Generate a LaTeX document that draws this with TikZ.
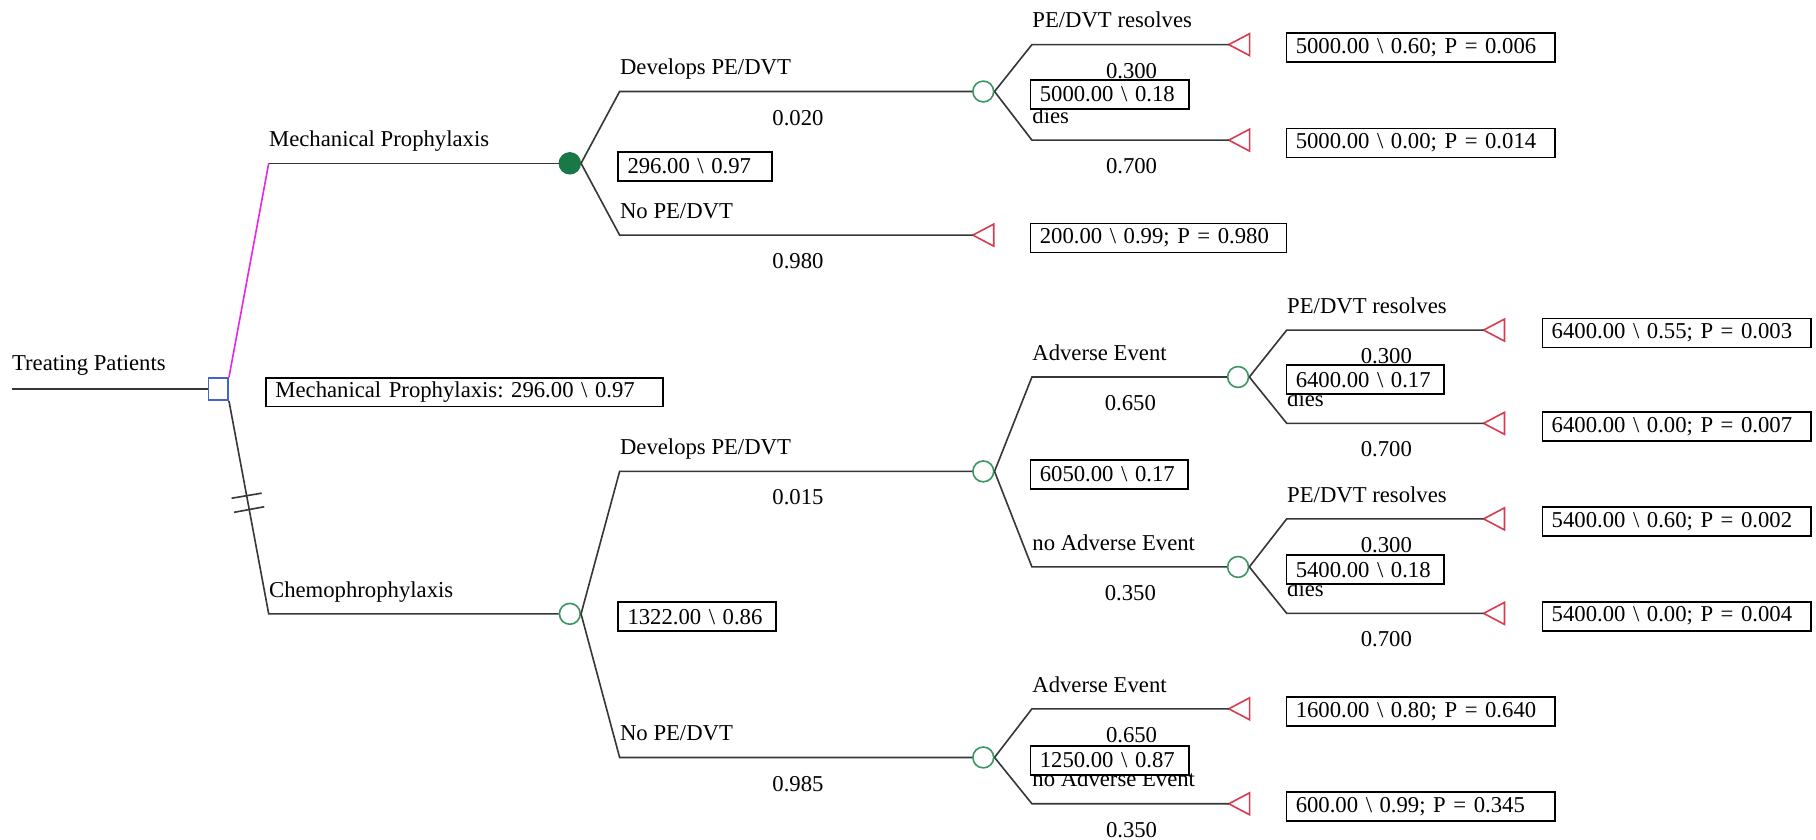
\documentclass[tikz,border=0pt]{standalone}
\usepackage{fontspec}
\setmainfont{Liberation Serif}
\usetikzlibrary{calc}
\frenchspacing
\definecolor{linegray}{RGB}{55,55,55}
\definecolor{optmag}{RGB}{230,40,230}
\definecolor{dkgreen}{RGB}{26,120,70}
\definecolor{chgreen}{RGB}{60,150,100}
\definecolor{tred}{RGB}{215,60,80}
\definecolor{dblue}{RGB}{70,100,200}
\tikzset{
  br/.style={draw=linegray, line width=0.7pt},
  optbr/.style={draw=optmag, line width=0.7pt},
  chance/.style={circle, draw=chgreen, fill=white, line width=0.7pt, minimum size=9pt, inner sep=0pt},
  chancef/.style={circle, draw=dkgreen, fill=dkgreen, line width=0.7pt, minimum size=9pt, inner sep=0pt},
  decis/.style={rectangle, draw=dblue, fill=white, line width=0.7pt, minimum width=8.5pt, minimum height=9.5pt, inner sep=0pt},
  termtri/.style={draw=tred, line width=0.7pt, line join=miter},
  lab/.style={anchor=base west, inner sep=0pt},
  prob/.style={anchor=base, inner sep=0pt},
  valbox/.style={draw=black, fill=white, line width=0.8pt, anchor=west, inner xsep=4pt, inner ysep=0pt, minimum height=12.5pt, align=left, text width=#1},
}
\newcommand{\termshape}[1]{\draw[termtri] (#1) -- ++(18,-9.5) -- ++(0,19) -- cycle;}
\begin{document}
\begin{tikzpicture}[x=0.5pt,y=-0.5pt, font=\fontsize{9.8}{11}\selectfont]
\useasboundingbox (0,0) rectangle (1568,725);

% ---------- nodes ----------
\coordinate (r0) at (10,336);
\node[decis] (D) at (188.5,336) {};
\node[chancef] (MC) at (492,141) {};
\node[chance] (CC) at (492,530) {};
\node[chance] (N1) at (849,79) {};
\node[chance] (N2) at (849,407) {};
\node[chance] (N3) at (849,654) {};
\node[chance] (N4) at (1069,325.5) {};
\node[chance] (N5) at (1069,489.5) {};

% elbows
\coordinate (eM) at (232,141);
\coordinate (eC) at (232,530);
\coordinate (e1) at (535,79);
\coordinate (e0) at (535,203);
\coordinate (e11) at (891,38.5);
\coordinate (e12) at (891,121);
\coordinate (e2) at (535,407);
\coordinate (e3) at (535,654);
\coordinate (e21) at (891,325.5);
\coordinate (e22) at (891,489.5);
\coordinate (e41) at (1111,285);
\coordinate (e42) at (1111,365.5);
\coordinate (e51) at (1111,448);
\coordinate (e52) at (1111,529.6);
\coordinate (e31) at (891,612);
\coordinate (e32) at (891,694);

% terminals
\coordinate (T0) at (840,203);
\coordinate (T1) at (1061,38.5);
\coordinate (T2) at (1061,121);
\coordinate (T3) at (1281,285);
\coordinate (T4) at (1281,365.5);
\coordinate (T5) at (1281,448);
\coordinate (T6) at (1281,529.6);
\coordinate (T7) at (1061,612);
\coordinate (T8) at (1061,694);
\foreach \t in {T0,T1,T2,T3,T4,T5,T6,T7,T8} {\termshape{\t}}

% ---------- connectors ----------
\draw[br] (r0) -- (D.west);
\draw[optbr] (D.north east) -- (eM);
\draw[br] (eM) -- (MC.west);
\draw[br] (D.south east) -- (eC) -- (CC.west);
\draw[br] (MC.east) -- (e1) -- (N1.west);
\draw[br] (MC.east) -- (e0) -- (T0);
\draw[br] (N1.east) -- (e11) -- (T1);
\draw[br] (N1.east) -- (e12) -- (T2);
\draw[br] (CC.east) -- (e2) -- (N2.west);
\draw[br] (CC.east) -- (e3) -- (N3.west);
\draw[br] (N2.east) -- (e21) -- (N4.west);
\draw[br] (N2.east) -- (e22) -- (N5.west);
\draw[br] (N4.east) -- (e41) -- (T3);
\draw[br] (N4.east) -- (e42) -- (T4);
\draw[br] (N5.east) -- (e51) -- (T5);
\draw[br] (N5.east) -- (e52) -- (T6);
\draw[br] (N3.east) -- (e31) -- (T7);
\draw[br] (N3.east) -- (e32) -- (T8);

% hash marks on the non-optimal branch
\coordinate (h1) at ($(D.south east)!0.445!(eC)$);
\coordinate (h2) at ($(D.south east)!0.51!(eC)$);
\draw[br] ([shift={(-13,2.2)}]h1) -- ([shift={(13,-2.2)}]h1);
\draw[br] ([shift={(-13,2.4)}]h2) -- ([shift={(13,-2.4)}]h2);

% ---------- labels ----------
\node[lab] (lroot) at (10,320) {Treating Patients};
\node[lab] (lM) at (232,126.5) {Mechanical Prophylaxis};
\node[lab] (lC) at (232,515.5) {Chemophrophylaxis};

\node[lab] (l1) at (535,64.5) {Develops PE/DVT};
\node[prob] (p1) at (689,108) {0.020};
\node[lab] (l0) at (535,188.5) {No PE/DVT};
\node[prob] (p0) at (689,232) {0.980};

\node[lab] (l11) at (891,24) {PE/DVT resolves};
\node[prob] (p11) at (977,67.5) {0.300};
\node[lab] (l12) at (891,106.5) {dies};
\node[prob] (p12) at (977,150) {0.700};

\node[lab] (l2) at (535,392.5) {Develops PE/DVT};
\node[prob] (p2) at (689,436) {0.015};
\node[lab] (l3) at (535,639.5) {No PE/DVT};
\node[prob] (p3) at (689,683) {0.985};

\node[lab] (l21) at (891,311) {Adverse Event};
\node[prob] (p21) at (976,354.5) {0.650};
\node[lab] (l22) at (891,475) {no Adverse Event};
\node[prob] (p22) at (976,518.5) {0.350};

\node[lab] (l41) at (1111,270.5) {PE/DVT resolves};
\node[prob] (p41) at (1197,314) {0.300};
\node[lab] (l42) at (1111,351) {dies};
\node[prob] (p42) at (1197,394.5) {0.700};

\node[lab] (l51) at (1111,433.5) {PE/DVT resolves};
\node[prob] (p51) at (1197,477) {0.300};
\node[lab] (l52) at (1111,515.1) {dies};
\node[prob] (p52) at (1197,558.6) {0.700};

\node[lab] (l31) at (891,597.5) {Adverse Event};
\node[prob] (p31) at (977,641) {0.650};
\node[lab] (l32) at (891,679.5) {no Adverse Event};
\node[prob] (p32) at (977,723) {0.350};

% ---------- value boxes ----------
\node[valbox=163.5pt] (bD) at (229,338.5) {Mechanical Prophylaxis: 296.00 \textbackslash\ 0.97};
\node[valbox=58.5pt] (bMC) at (533,143.5) {296.00 \textbackslash\ 0.97};
\node[valbox=60.5pt] (bN1) at (889,81.5) {5000.00 \textbackslash\ 0.18};
\node[valbox=60pt] (bCC) at (533,532.5) {1322.00 \textbackslash\ 0.86};
\node[valbox=60pt] (bN2) at (889,409.5) {6050.00 \textbackslash\ 0.17};
\node[valbox=60pt] (bN4) at (1110,328) {6400.00 \textbackslash\ 0.17};
\node[valbox=60pt] (bN5) at (1110,492) {5400.00 \textbackslash\ 0.18};
\node[valbox=60.5pt] (bN3) at (889,656.5) {1250.00 \textbackslash\ 0.87};

\node[valbox=102.5pt] (bT0) at (889,205.5) {200.00 \textbackslash\ 0.99; P = 0.980};
\node[valbox=108pt] (bT1) at (1110,41) {5000.00 \textbackslash\ 0.60; P = 0.006};
\node[valbox=108pt] (bT2) at (1110,123.5) {5000.00 \textbackslash\ 0.00; P = 0.014};
\node[valbox=108pt] (bT3) at (1331,287.5) {6400.00 \textbackslash\ 0.55; P = 0.003};
\node[valbox=108pt] (bT4) at (1331,368) {6400.00 \textbackslash\ 0.00; P = 0.007};
\node[valbox=108pt] (bT5) at (1331,450.5) {5400.00 \textbackslash\ 0.60; P = 0.002};
\node[valbox=108pt] (bT6) at (1331,532) {5400.00 \textbackslash\ 0.00; P = 0.004};
\node[valbox=108pt] (bT7) at (1110,614.5) {1600.00 \textbackslash\ 0.80; P = 0.640};
\node[valbox=108pt] (bT8) at (1110,696.5) {600.00 \textbackslash\ 0.99; P = 0.345};
\end{tikzpicture}
\end{document}
